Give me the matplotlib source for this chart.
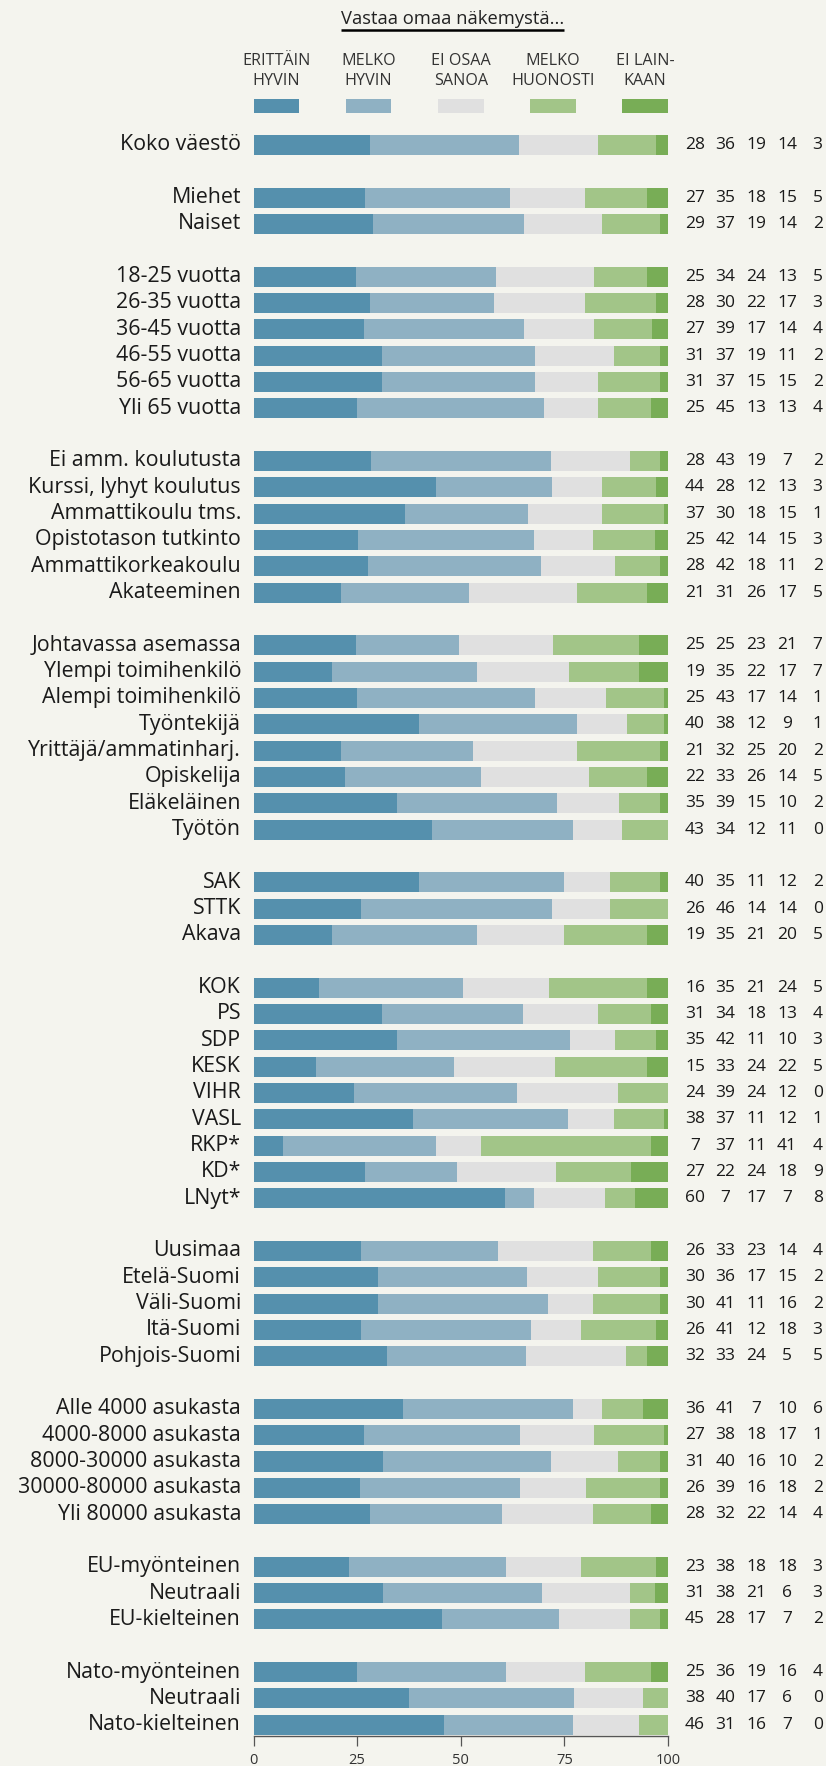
import matplotlib
matplotlib.use("Agg")
import matplotlib.pyplot as plt
from matplotlib.patches import Rectangle
import numpy as np

plt.rcParams['font.family'] = ['Open Sans', 'DejaVu Sans']

title = "Vastaa omaa näkemystä..."
legend_labels = [("ERITTÄIN", "HYVIN"), ("MELKO", "HYVIN"), ("EI OSAA", "SANOA"),
                 ("MELKO", "HUONOSTI"), ("EI LAIN-", "KAAN")]
colors = ["#5590ad", "#8fb1c3", "#e0e0e0", "#a2c588", "#78ad56"]

groups = [
    [("Koko väestö", [28, 36, 19, 14, 3])],
    [("Miehet", [27, 35, 18, 15, 5]),
     ("Naiset", [29, 37, 19, 14, 2])],
    [("18-25 vuotta", [25, 34, 24, 13, 5]),
     ("26-35 vuotta", [28, 30, 22, 17, 3]),
     ("36-45 vuotta", [27, 39, 17, 14, 4]),
     ("46-55 vuotta", [31, 37, 19, 11, 2]),
     ("56-65 vuotta", [31, 37, 15, 15, 2]),
     ("Yli 65 vuotta", [25, 45, 13, 13, 4])],
    [("Ei amm. koulutusta", [28, 43, 19, 7, 2]),
     ("Kurssi, lyhyt koulutus", [44, 28, 12, 13, 3]),
     ("Ammattikoulu tms.", [37, 30, 18, 15, 1]),
     ("Opistotason tutkinto", [25, 42, 14, 15, 3]),
     ("Ammattikorkeakoulu", [28, 42, 18, 11, 2]),
     ("Akateeminen", [21, 31, 26, 17, 5])],
    [("Johtavassa asemassa", [25, 25, 23, 21, 7]),
     ("Ylempi toimihenkilö", [19, 35, 22, 17, 7]),
     ("Alempi toimihenkilö", [25, 43, 17, 14, 1]),
     ("Työntekijä", [40, 38, 12, 9, 1]),
     ("Yrittäjä/ammatinharj.", [21, 32, 25, 20, 2]),
     ("Opiskelija", [22, 33, 26, 14, 5]),
     ("Eläkeläinen", [35, 39, 15, 10, 2]),
     ("Työtön", [43, 34, 12, 11, 0])],
    [("SAK", [40, 35, 11, 12, 2]),
     ("STTK", [26, 46, 14, 14, 0]),
     ("Akava", [19, 35, 21, 20, 5])],
    [("KOK", [16, 35, 21, 24, 5]),
     ("PS", [31, 34, 18, 13, 4]),
     ("SDP", [35, 42, 11, 10, 3]),
     ("KESK", [15, 33, 24, 22, 5]),
     ("VIHR", [24, 39, 24, 12, 0]),
     ("VASL", [38, 37, 11, 12, 1]),
     ("RKP*", [7, 37, 11, 41, 4]),
     ("KD*", [27, 22, 24, 18, 9]),
     ("LNyt*", [60, 7, 17, 7, 8])],
    [("Uusimaa", [26, 33, 23, 14, 4]),
     ("Etelä-Suomi", [30, 36, 17, 15, 2]),
     ("Väli-Suomi", [30, 41, 11, 16, 2]),
     ("Itä-Suomi", [26, 41, 12, 18, 3]),
     ("Pohjois-Suomi", [32, 33, 24, 5, 5])],
    [("Alle 4000 asukasta", [36, 41, 7, 10, 6]),
     ("4000-8000 asukasta", [27, 38, 18, 17, 1]),
     ("8000-30000 asukasta", [31, 40, 16, 10, 2]),
     ("30000-80000 asukasta", [26, 39, 16, 18, 2]),
     ("Yli 80000 asukasta", [28, 32, 22, 14, 4])],
    [("EU-myönteinen", [23, 38, 18, 18, 3]),
     ("Neutraali", [31, 38, 21, 6, 3]),
     ("EU-kielteinen", [45, 28, 17, 7, 2])],
    [("Nato-myönteinen", [25, 36, 19, 16, 4]),
     ("Neutraali", [38, 40, 17, 6, 0]),
     ("Nato-kielteinen", [46, 31, 16, 7, 0])],
]
xticks = [0, 25, 50, 75, 100]

BG = "#f4f4ee"
W, H = 826, 1766
fig = plt.figure(figsize=(W / 100, H / 100), dpi=100, facecolor=BG)

pitch = 26.33
row0_px = 145
top_px, bot_px = 125, 1736
left_px, right_px = 253.5, 668
ax = fig.add_axes([left_px / W, 1 - bot_px / H, (right_px - left_px) / W, (bot_px - top_px) / H])
ax.set_facecolor(BG)
ax.set_xlim(0, 100)
ax.set_ylim((bot_px - row0_px) / pitch, (top_px - row0_px) / pitch)

labels, values, ypos = [], [], []
r = 0
for g in groups:
    for name, vals in g:
        labels.append(name)
        values.append(vals)
        ypos.append(r)
        r += 1
    r += 1
values = np.array(values, dtype=float)
ypos = np.array(ypos)
norm = values / values.sum(axis=1, keepdims=True) * 100

left = np.zeros(len(labels))
for k in range(5):
    ax.barh(ypos, norm[:, k], left=left, height=0.76, color=colors[k], linewidth=0)
    left += norm[:, k]

for y, name, vals in zip(ypos, labels, values):
    ax.text(-3.0, y, name, ha="right", va="center", fontsize=15.4, color="#1a1a1a")
    for k, v in enumerate(vals):
        ax.text(106.5 + 7.4 * k, y, f"{int(v)}", ha="center", va="center",
                fontsize=12.5, color="#1a1a1a")

for s in ["top", "right", "left"]:
    ax.spines[s].set_visible(False)
ax.spines["bottom"].set_color("#555555")
ax.spines["bottom"].set_linewidth(1.0)
ax.set_yticks([])
ax.set_xticks(xticks)
ax.set_xticklabels([str(t) for t in xticks])
ax.tick_params(axis="x", direction="out", length=7.5, width=0.9, color="#555555",
               labelsize=10.5, labelcolor="#333333", pad=5)

# legend header
sw_w = 11
sw_step = 22.25
def prow(px):
    return (px - row0_px) / pitch
for k, (l1, l2) in enumerate(legend_labels):
    x0 = k * sw_step
    ax.add_patch(Rectangle((x0, prow(99)), sw_w, prow(113) - prow(99), color=colors[k],
                           clip_on=False, linewidth=0))
    xc = x0 + sw_w / 2
    ax.text(xc, prow(61), l1, ha="center", va="center", fontsize=11.6, color="#333333")
    ax.text(xc, prow(81), l2, ha="center", va="center", fontsize=11.6, color="#333333")

t = ax.text(48.0, prow(19), title, ha="center", va="center", fontsize=13.2, color="#222222")
fig.canvas.draw()
bb = t.get_window_extent()
inv = ax.transData.inverted()
(xa, _), (xb, _) = inv.transform([(bb.x0, 0), (bb.x1, 0)])
ax.plot([xa, xb], [prow(29.5), prow(29.5)], color="black", lw=1.8, clip_on=False,
        solid_capstyle="butt")

fig.savefig("out.png", dpi=100, facecolor=BG)
